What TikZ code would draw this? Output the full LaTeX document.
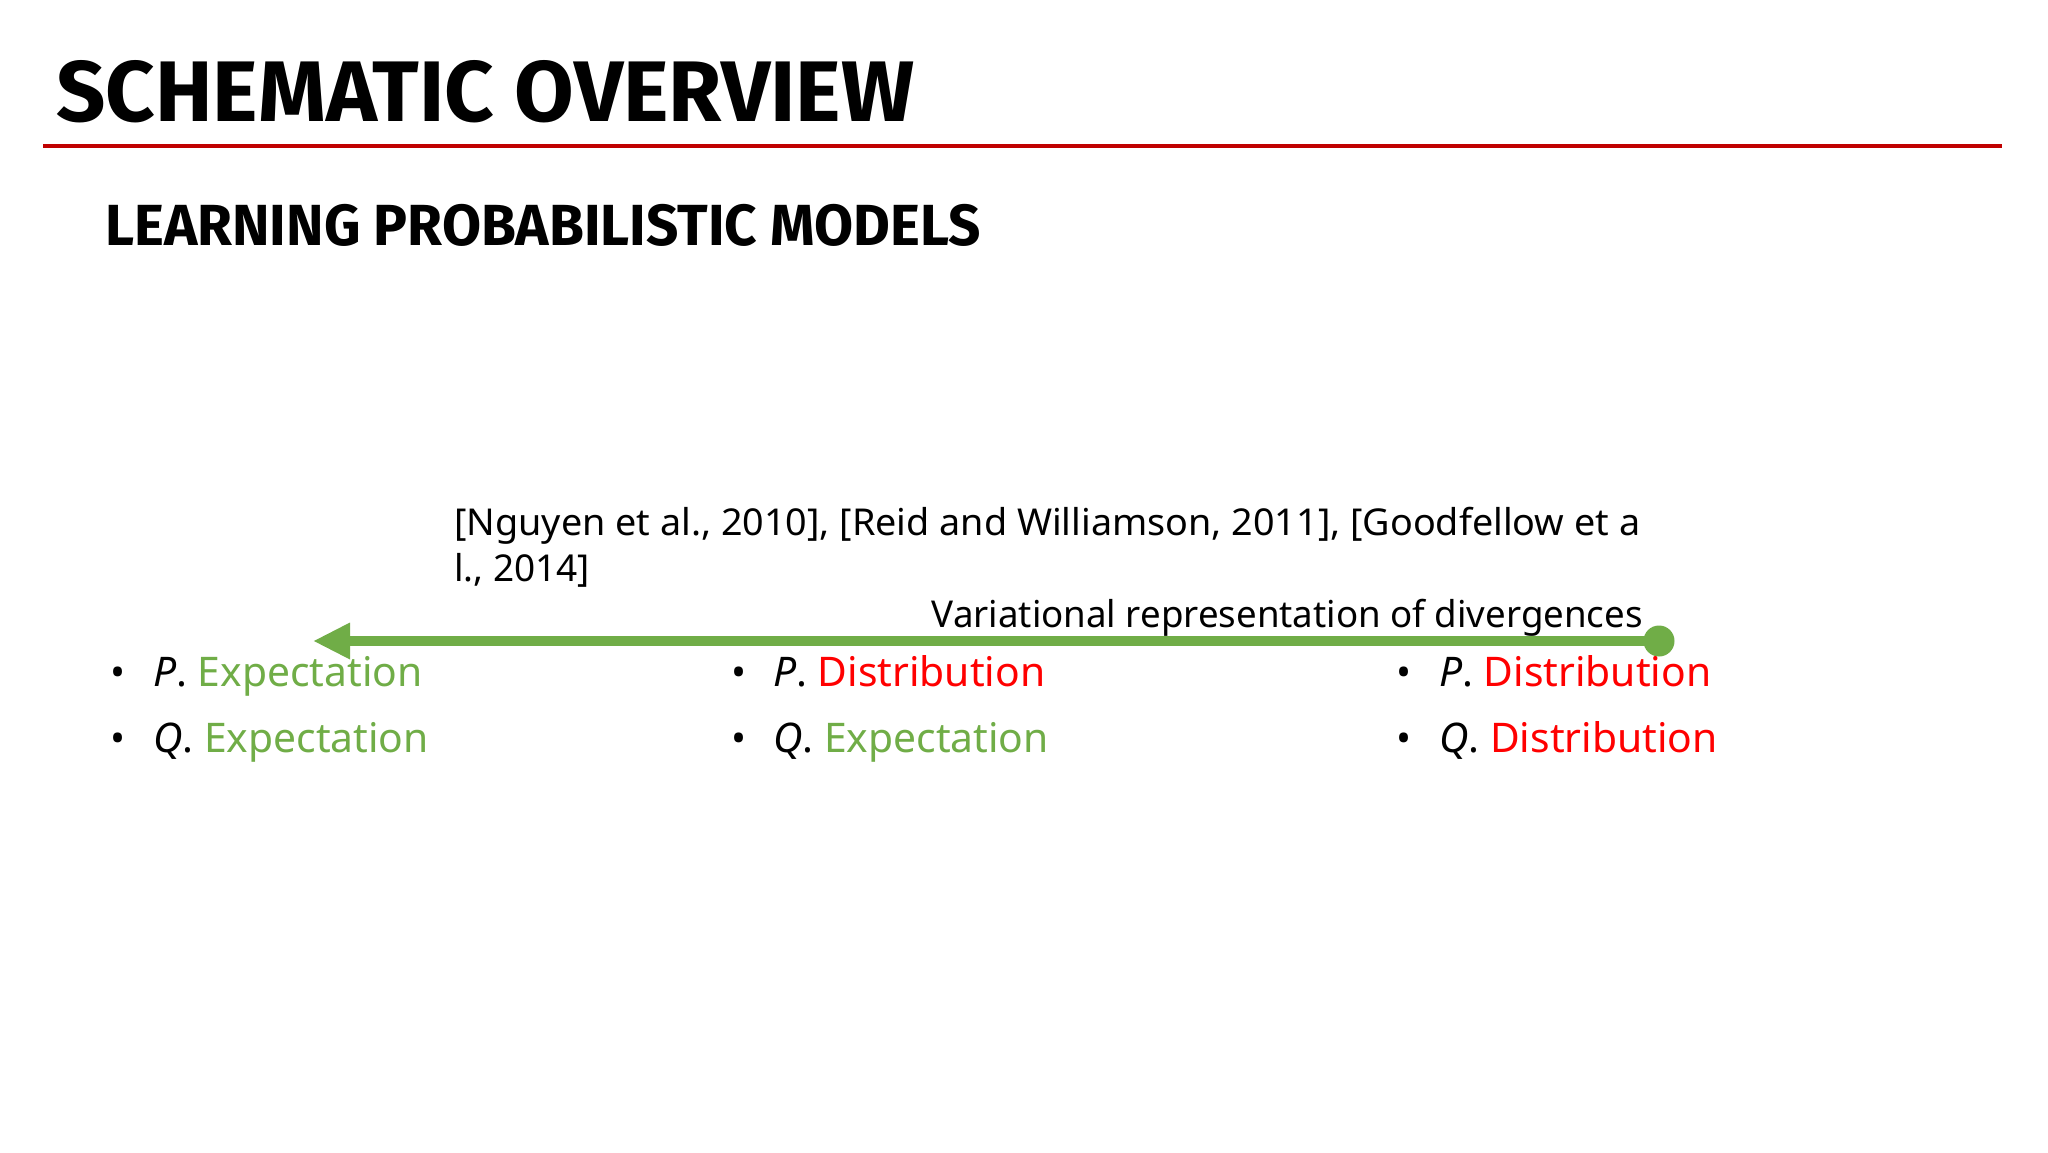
\documentclass[tikz,border=0pt]{standalone}
\usepackage{fontspec}
\setmainfont{Noto Sans}
\newfontfamily\hdfont{Fira Sans}
\usetikzlibrary{arrows.meta}
\definecolor{grn}{HTML}{70AD47}
\definecolor{dred}{HTML}{C00000}
\definecolor{rd}{HTML}{FF0000}
\tikzset{
  txt/.style={anchor=base west, inner sep=0pt, font=\fontsize{40.8}{48}\selectfont},
  cite/.style={anchor=base west, inner sep=0pt, font=\fontsize{37}{44}\selectfont},
  bul/.style={anchor=base, inner sep=0pt, font=\fontsize{40}{48}\selectfont},
  head/.style={anchor=base west, inner sep=0pt},
}
\begin{document}
\begin{tikzpicture}[x=1pt,y=-1pt]
\useasboundingbox[fill=white] (0,0) rectangle (2048,1152);
\node[head, font=\fontsize{86}{90}\selectfont\hdfont\bfseries] (title) at (56,121) {\resizebox{858pt}{\height}{SCHEMATIC OVERVIEW}};
\coordinate (ls) at (43,146);
\coordinate (le) at (2002,146);
\draw[dred, line width=4pt] (ls) -- (le);
\node[head, font=\fontsize{58}{64}\selectfont\hdfont\bfseries] (sub) at (105,245) {\resizebox{876pt}{\height}{LEARNING PROBABILISTIC MODELS}};

\node[cite] (c1) at (454,535) {\resizebox{1186pt}{\height}{[Nguyen et al., 2010], [Reid and Williamson, 2011], [Goodfellow et a}};
\node[cite] (c2) at (454,581) {l., 2014]};
\node[cite, anchor=base east] (var) at (1643,627) {\resizebox{711pt}{\height}{Variational representation of divergences}};

\node[circle, fill=grn, minimum size=31pt, inner sep=0pt] (dot) at (1659,641) {};
\coordinate (tip) at (313,641);
\draw[grn, line width=10pt, -{Triangle[length=37pt,width=34pt]}] (dot.center) -- (tip);

\node[bul] (b11) at (118,686) {•};
\node[txt] (t11) at (153,686) {\textit{P}. \textcolor{grn}{Expectation}};
\node[bul] (b12) at (118,752) {•};
\node[txt] (t12) at (153,752) {\textit{Q}. \textcolor{grn}{Expectation}};

\node[bul] (b21) at (739,686) {•};
\node[txt] (t21) at (773,686) {\textit{P}. \textcolor{rd}{Distribution}};
\node[bul] (b22) at (739,752) {•};
\node[txt] (t22) at (773,752) {\textit{Q}. \textcolor{grn}{Expectation}};

\node[bul] (b31) at (1404,686) {•};
\node[txt] (t31) at (1439,686) {\textit{P}. \textcolor{rd}{Distribution}};
\node[bul] (b32) at (1404,752) {•};
\node[txt] (t32) at (1439,752) {\textit{Q}. \textcolor{rd}{Distribution}};
\end{tikzpicture}
\end{document}
